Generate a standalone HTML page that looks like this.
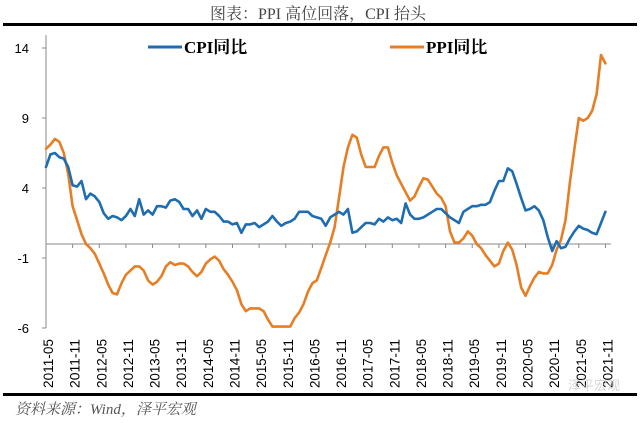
<!DOCTYPE html>
<html><head><meta charset="utf-8"><style>
body{margin:0;background:#fff;}
svg{display:block;}
</style></head><body>
<svg width="640" height="423" viewBox="0 0 640 423" xmlns="http://www.w3.org/2000/svg">
<text x="318" y="19" text-anchor="middle" font-family="'Liberation Serif','Noto Serif CJK SC',serif" font-size="16" fill="#444">图表：PPI 高位回落，CPI 抬头</text>
<rect x="3" y="23" width="634" height="3" fill="#000"/>
<g>
<g>
<line x1="148" y1="47" x2="182" y2="47" stroke="#1f6db0" stroke-width="3"/>
<text x="184" y="53" font-family="'Liberation Serif','Noto Serif CJK SC',serif" font-weight="bold" font-size="17" fill="#000">CPI同比</text>
</g>
<g>
<line x1="390" y1="47" x2="424" y2="47" stroke="#e57e25" stroke-width="3"/>
<text x="426" y="53" font-family="'Liberation Serif','Noto Serif CJK SC',serif" font-weight="bold" font-size="17" fill="#000">PPI同比</text>
</g>
</g>
<g id="axes"></g>
<g id="series"></g>
<rect x="3" y="393" width="634" height="3" fill="#000"/>
<text x="15" y="414" font-family="'Liberation Serif','Noto Serif CJK SC',serif" font-style="italic" font-size="15" fill="#555">资料来源：Wind，泽平宏观</text>
<text x="620" y="390" text-anchor="end" font-family="'Liberation Sans','Noto Sans CJK SC',sans-serif" font-size="13" fill="#ccc" opacity="0.8">泽平宏观</text>
</svg>
<script>
const startYear = 2011, startMonth = 5;
const yTicks = [14, 9, 4, -1, -6];
const xTickLabels = ["2011-05","2011-11","2012-05","2012-11","2013-05","2013-11","2014-05","2014-11","2015-05","2015-11","2016-05","2016-11","2017-05","2017-11","2018-05","2018-11","2019-05","2019-11","2020-05","2020-11","2021-05","2021-11"];
const cpi = [5.5,6.4,6.5,6.2,6.1,5.5,4.2,4.1,
4.5,3.2,3.6,3.4,3.0,2.2,1.8,2.0,1.9,1.7,2.0,2.5,
2.0,3.2,2.1,2.4,2.1,2.7,2.7,2.6,3.1,3.2,3.0,2.5,
2.5,2.0,2.4,1.8,2.5,2.3,2.3,2.0,1.6,1.6,1.4,1.5,
0.8,1.4,1.4,1.5,1.2,1.4,1.6,2.0,1.6,1.3,1.5,1.6,
1.8,2.3,2.3,2.3,2.0,1.9,1.8,1.3,1.9,2.1,2.3,2.1,
2.5,0.8,0.9,1.2,1.5,1.5,1.4,1.8,1.6,1.9,1.7,1.8,
1.5,2.9,2.1,1.8,1.8,1.9,2.1,2.3,2.5,2.5,2.2,1.9,
1.7,1.5,2.3,2.5,2.7,2.7,2.8,2.8,3.0,3.8,4.5,4.5,
5.4,5.2,4.3,3.3,2.4,2.5,2.7,2.4,1.7,0.5,-0.5,0.2,
-0.3,-0.2,0.4,0.9,1.3,1.1,1.0,0.8,0.7,1.5,2.3];
const ppi = [6.8,7.1,7.5,7.3,6.5,5.0,2.7,1.7,
0.7,0.0,-0.3,-0.7,-1.4,-2.1,-2.9,-3.5,-3.6,-2.8,-2.2,-1.9,
-1.6,-1.6,-1.9,-2.6,-2.9,-2.7,-2.3,-1.6,-1.3,-1.5,-1.4,-1.4,
-1.6,-2.0,-2.3,-2.0,-1.4,-1.1,-0.9,-1.2,-1.8,-2.2,-2.7,-3.3,
-4.3,-4.8,-4.6,-4.6,-4.6,-4.8,-5.4,-5.9,-5.9,-5.9,-5.9,-5.9,
-5.3,-4.9,-4.3,-3.4,-2.8,-2.6,-1.7,-0.8,0.1,1.2,3.3,5.5,
6.9,7.8,7.6,6.4,5.5,5.5,5.5,6.3,6.9,6.9,5.8,4.9,
4.3,3.7,3.1,3.4,4.1,4.7,4.6,4.1,3.6,3.3,2.7,0.9,
0.1,0.1,0.4,0.9,0.6,0.0,-0.3,-0.8,-1.2,-1.6,-1.4,-0.5,
0.1,-0.4,-1.5,-3.1,-3.7,-3.0,-2.4,-2.0,-2.1,-2.1,-1.5,-0.4,
0.3,1.7,4.4,6.8,9.0,8.8,9.0,9.5,10.7,13.5,12.9];

const NS = "http://www.w3.org/2000/svg";
const X0 = 46, MONTH = 4.44, Y0 = 244, UNIT = 14;
function xScale(i){ return X0 + i*MONTH; }
function yScale(v){ return Y0 - v*UNIT; }
function monthIndex(label){ const [y,m]=label.split("-").map(Number); return (y-startYear)*12 + (m-startMonth); }

const axes = document.getElementById("axes");
function mk(tag, attrs, parent){ const e=document.createElementNS(NS,tag); for(const k in attrs) e.setAttribute(k,attrs[k]); parent.appendChild(e); return e; }

const yAxis = mk("line",{x1:X0,y1:35,x2:X0,y2:yScale(-6),stroke:"#888","stroke-width":1},axes);


yTicks.forEach(v=>{
  const t = mk("line",{x1:X0-4,y1:yScale(v),x2:X0,y2:yScale(v),stroke:"#888","stroke-width":1},axes);
  
  
  const l = mk("text",{x:29,y:yScale(v)+5,"text-anchor":"end","font-family":"'Liberation Sans',sans-serif","font-size":"13",fill:"#000"},axes);
  l.textContent = v;
  
  
});
const xAxis = mk("line",{x1:X0,y1:Y0,x2:xScale(127)+1,y2:Y0,stroke:"#888","stroke-width":1},axes);


xTickLabels.forEach(lbl=>{
  const i = monthIndex(lbl), x = xScale(i);
  const t = mk("line",{x1:x,y1:Y0,x2:x,y2:Y0+4,stroke:"#888","stroke-width":1},axes);
  
  
  const l = mk("text",{x:0,y:0,transform:`translate(${x+7},388) rotate(-90)`,"font-family":"'Liberation Sans',sans-serif","font-size":"14",textLength:"49",lengthAdjust:"spacingAndGlyphs",fill:"#000"},axes);
  l.textContent = lbl;
  
  
});

const series = document.getElementById("series");
function line(data, color, name){
  const pts = data.map((v,i)=>`${xScale(i).toFixed(1)},${yScale(v).toFixed(1)}`).join(" ");
  const p = mk("polyline",{points:pts,fill:"none",stroke:color,"stroke-width":2.6,"stroke-linejoin":"round","stroke-linecap":"round"},series);
  
  
}
line(ppi, "#e57e25", "ppi-line");
line(cpi, "#1f6db0", "cpi-line");
</script>
</body></html>
